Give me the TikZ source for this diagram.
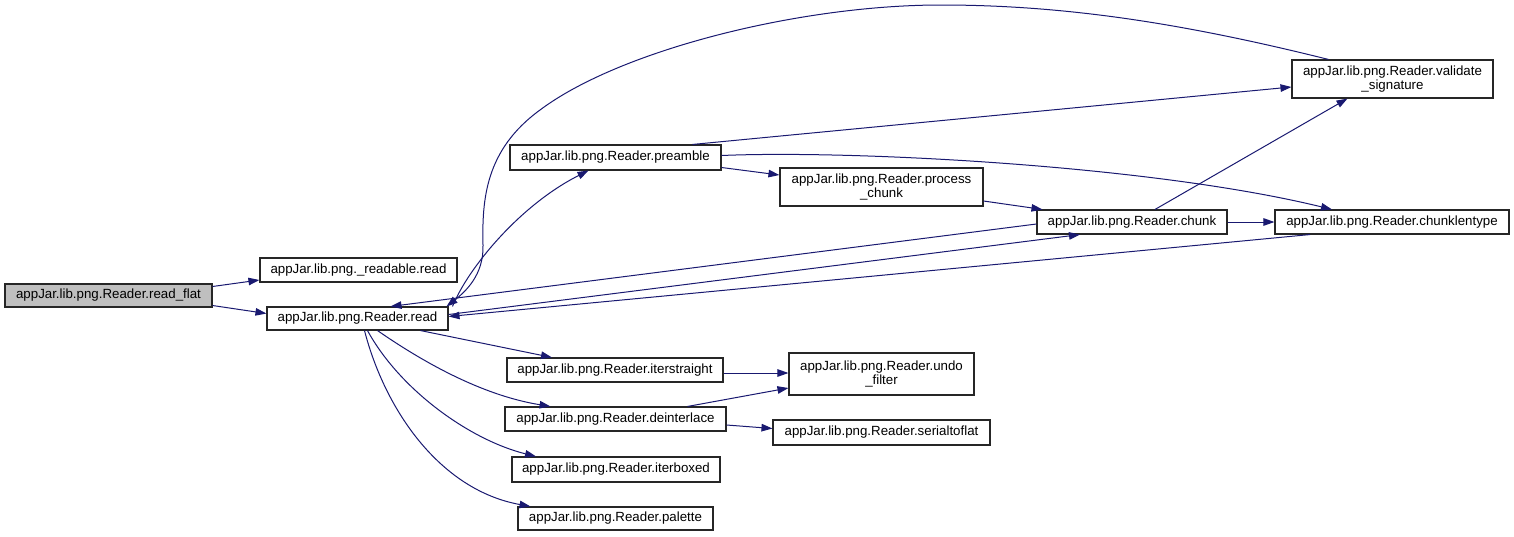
\documentclass[tikz,border=0pt]{standalone}
\usepackage{fontspec}
\setmainfont{Liberation Sans}
\usetikzlibrary{arrows.meta}
\definecolor{edgeblue}{RGB}{25,25,112}
\begin{document}
\begin{tikzpicture}[x=1pt, y=-1pt,
  fn/.style={rectangle, draw=black!85, fill=white, line width=1.1pt, inner sep=0pt, font=\fontsize{13.3}{13.5}\selectfont, align=center},
  cur/.style={fn, fill=black!25},
  e/.style={edgeblue, line width=1pt, -{Triangle[length=11pt, width=7.5pt]}}]
\useasboundingbox (0,0) rectangle (1514,536);
\node[cur, minimum width=207, minimum height=23] (flat) at (108.5,295.5) {appJar.lib.png.Reader.read\_flat};
\node[fn, minimum width=197, minimum height=24] (readable) at (358.5,270) {appJar.lib.png.\_readable.read};
\node[fn, minimum width=181, minimum height=23] (read) at (357.5,318.5) {appJar.lib.png.Reader.read};
\node[fn, minimum width=211, minimum height=25] (preamble) at (615.5,157.5) {appJar.lib.png.Reader.preamble};
\node[fn, minimum width=203, minimum height=38] (pc) at (881.5,187) {appJar.lib.png.Reader.process\\\_chunk};
\node[fn, minimum width=201, minimum height=38] (vs) at (1392.5,79) {appJar.lib.png.Reader.validate\\\_signature};
\node[fn, minimum width=190, minimum height=24] (chunk) at (1132,222) {appJar.lib.png.Reader.chunk};
\node[fn, minimum width=234, minimum height=24] (clt) at (1392,222) {appJar.lib.png.Reader.chunklentype};
\node[fn, minimum width=216, minimum height=24] (iterstraight) at (615,370) {appJar.lib.png.Reader.iterstraight};
\node[fn, minimum width=185, minimum height=42] (undo) at (881.5,374) {appJar.lib.png.Reader.undo\\\_filter};
\node[fn, minimum width=221, minimum height=24] (deint) at (615.5,419) {appJar.lib.png.Reader.deinterlace};
\node[fn, minimum width=217, minimum height=25] (serial) at (881.5,432.5) {appJar.lib.png.Reader.serialtoflat};
\node[fn, minimum width=208, minimum height=25] (iterboxed) at (616,469.5) {appJar.lib.png.Reader.iterboxed};
\node[fn, minimum width=195, minimum height=23] (palette) at (615.5,518.5) {appJar.lib.png.Reader.palette};
\draw[e] ([yshift=9]flat.east) -- ([yshift=-10]readable.west);
\draw[e] ([yshift=-10]flat.east) -- ([yshift=5]read.west);
\draw[e] ([xshift=95]read.north) .. controls (468,268) and (520,205) .. ([xshift=-27]preamble.south);
\draw[e] ([yshift=-10]preamble.east) -- ([yshift=12]pc.west);
\draw[e] ([xshift=77]preamble.north) -- ([yshift=-8]vs.west);
\draw[e] ([yshift=2]preamble.east) .. controls (850,150) and (1150,165) .. ([xshift=-60]clt.north);
\draw[e] ([yshift=-14]pc.east) -- ([xshift=6]chunk.north west);
\draw[e] ([xshift=23]chunk.north) -- ([xshift=-45]vs.south);
\draw[e] (chunk) -- (clt);
\draw[e] ([yshift=-2]chunk.west) -- ([xshift=33]read.north);
\draw[e] ([yshift=4]read.east) -- ([xshift=-52]chunk.south);
\draw[e] ([xshift=-82]clt.south) -- ([yshift=2]read.east);
\draw[e] ([xshift=-64]vs.north) .. controls (1190,25) and (1070,5) .. (941,5)
  .. controls (800,5) and (620,50) .. (540,110)
  .. controls (485,150) and (482,200) .. (483,245)
  .. controls (484,275) and (465,292) .. ([xshift=89]read.north);
\draw[e] ([xshift=63]read.south) -- ([xshift=-63]iterstraight.north);
\draw[e] ([xshift=20]read.south) .. controls (420,360) and (480,395) .. ([xshift=-65]deint.north);
\draw[e] ([xshift=10]read.south) .. controls (400,390) and (470,440) .. ([xshift=-80]iterboxed.north);
\draw[e] ([xshift=7]read.south) .. controls (385,410) and (440,490) .. ([xshift=-85]palette.north);
\draw[e] ([yshift=-3]iterstraight.east) -- ([yshift=1]undo.west);
\draw[e] ([xshift=72]deint.north) -- ([yshift=-14]undo.west);
\draw[e] ([yshift=-6]deint.east) -- ([yshift=4]serial.west);
\end{tikzpicture}
\end{document}
